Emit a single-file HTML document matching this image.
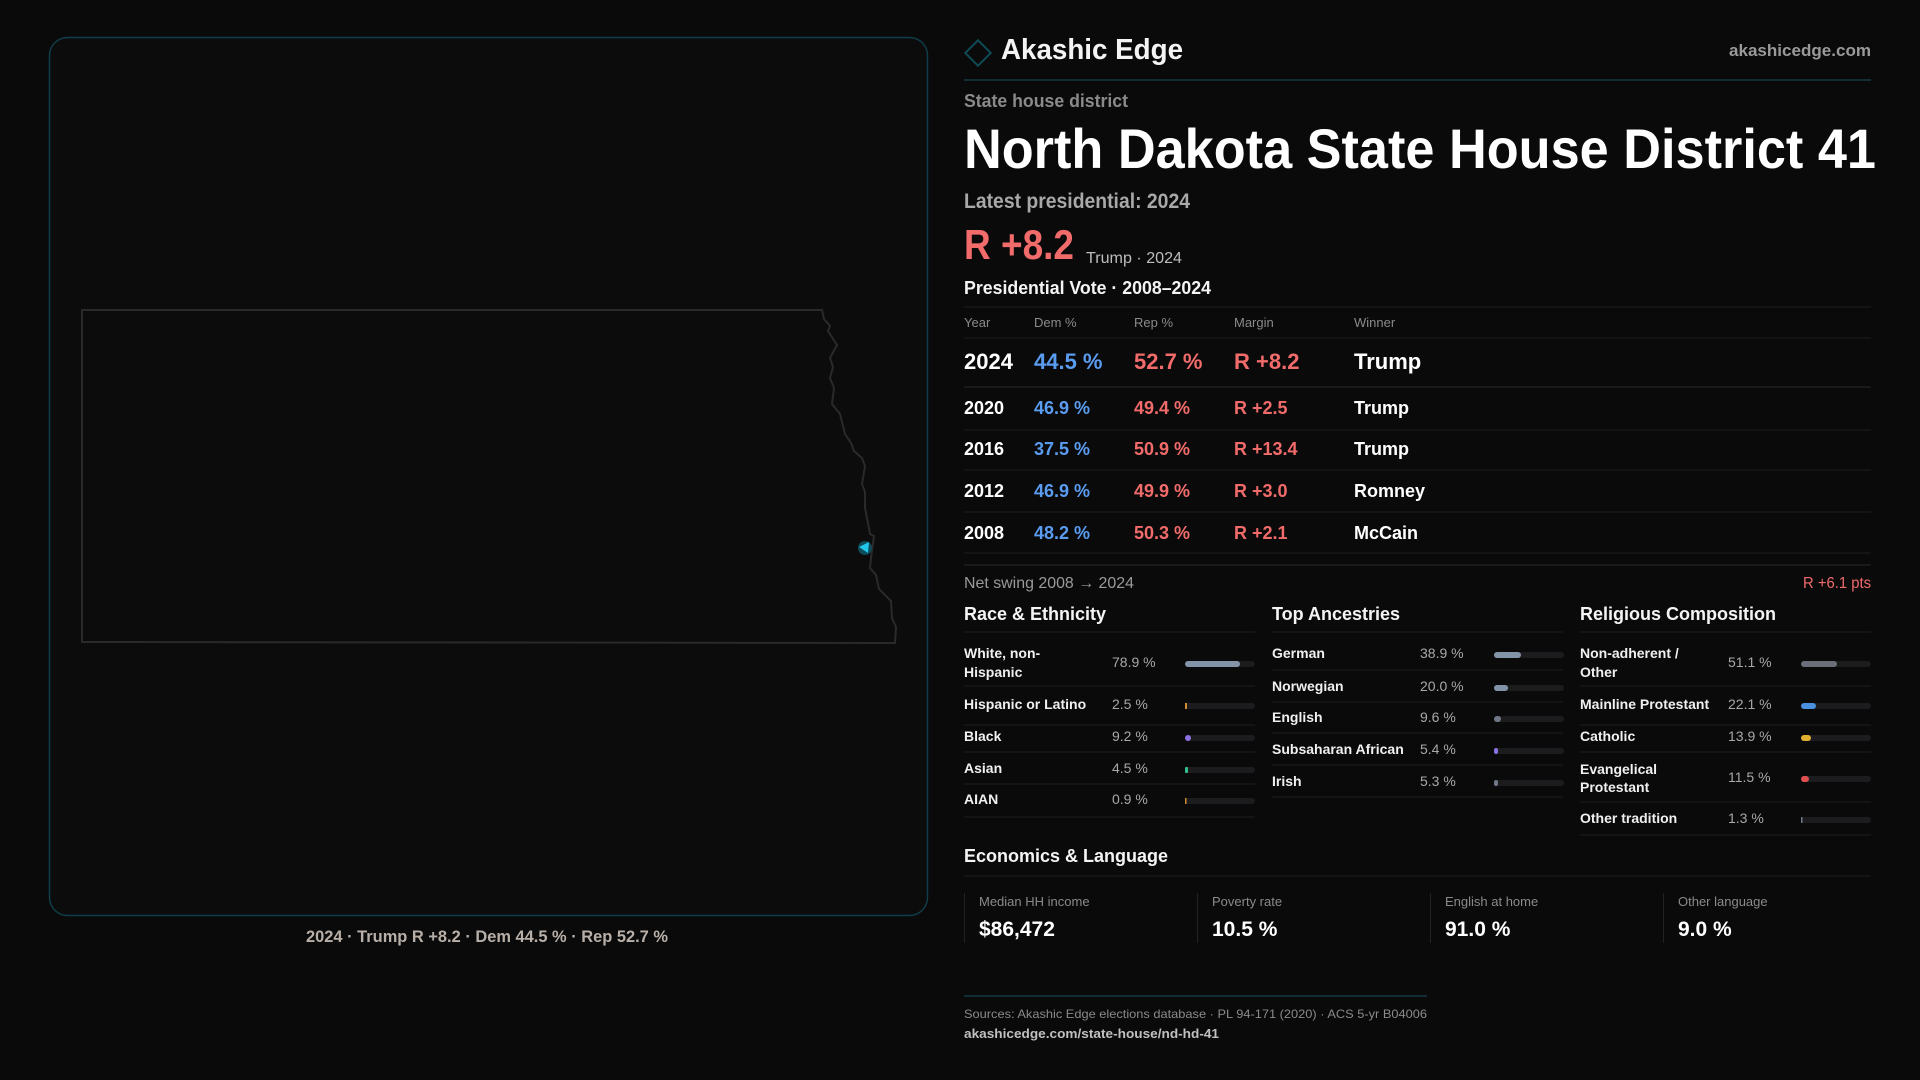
<!DOCTYPE html>
<html><head><meta charset="utf-8"><style>
html,body{margin:0;padding:0;background:#0a0a0b;}
svg{display:block}
text{font-family:"Liberation Sans",sans-serif;}
</style></head><body>
<svg width="1920" height="1080" viewBox="0 0 1920 1080" xmlns="http://www.w3.org/2000/svg">
<rect width="1920" height="1080" fill="#0a0a0b"/>
<!-- map panel -->
<rect x="49.5" y="37.5" width="878" height="878" rx="18" fill="#0c0c0d" stroke="#0f3d48" stroke-width="1.5"/>
<path d="M82,310 L822,310 L824,319 L830,326 L828,331 L837,345 L830,358 L833,367 L830,378 L834,388 L832,404 L840,414 L845,434 L851,443 L854,451 L862,458 L865,466 L862,484 L865,492 L865,508 L868,523 L870,534 L874,536 L871,558 L870,568 L876,575 L879,589 L891,601 L892,618 L896,627 L895,643 L82,642 Z" fill="none" stroke="#2a2a2c" stroke-width="2"/>
<circle cx="865" cy="548" r="7" fill="#0e4a58"/>
<path d="M859,547 L869,542 L868,553 Z" fill="#22c8ea"/>
<text x="487" y="942" text-anchor="middle" font-size="17" fill="#b8b0a8" font-weight="bold" textLength="362" lengthAdjust="spacingAndGlyphs">2024 · Trump R +8.2 · Dem 44.5 % · Rep 52.7 %</text>

<!-- header -->
<rect x="969" y="44" width="18" height="18" transform="rotate(45 978 53)" fill="none" stroke="#0f4a55" stroke-width="2"/>
<text x="1001" y="59" font-size="29" fill="#f4f4f4" font-weight="bold" textLength="182" lengthAdjust="spacingAndGlyphs">Akashic Edge</text>
<text x="1871" y="56" text-anchor="end" font-size="17" fill="#9a9a9a" font-weight="bold" textLength="142" lengthAdjust="spacingAndGlyphs">akashicedge.com</text>
<line x1="964" y1="80" x2="1871" y2="80" stroke="#123a42" stroke-width="1.5"/>
<text x="964" y="107" font-size="18" fill="#8a8a8a" font-weight="bold" textLength="164" lengthAdjust="spacingAndGlyphs">State house district</text>
<text x="964" y="168" font-size="56" fill="#ffffff" font-weight="bold" textLength="912" lengthAdjust="spacingAndGlyphs">North Dakota State House District 41</text>
<text x="964" y="208" font-size="21" fill="#a8a8a8" font-weight="bold" textLength="226" lengthAdjust="spacingAndGlyphs">Latest presidential: 2024</text>
<text x="964" y="259" font-size="42" fill="#f26b6b" font-weight="bold" textLength="110" lengthAdjust="spacingAndGlyphs">R +8.2</text>
<text x="1086" y="263" font-size="16" fill="#bdbdbd" textLength="96" lengthAdjust="spacingAndGlyphs">Trump · 2024</text>
<text x="964" y="294" font-size="18" fill="#f4f4f4" font-weight="bold" textLength="247" lengthAdjust="spacingAndGlyphs">Presidential Vote · 2008–2024</text>
<g stroke="#1e1e20" stroke-width="1">
<line x1="964" y1="307" x2="1871" y2="307"/><line x1="964" y1="338" x2="1871" y2="338"/>
<line x1="964" y1="387" x2="1871" y2="387" stroke="#2a2a2c"/><line x1="964" y1="430" x2="1871" y2="430"/>
<line x1="964" y1="470" x2="1871" y2="470"/><line x1="964" y1="512" x2="1871" y2="512"/>
<line x1="964" y1="553" x2="1871" y2="553"/><line x1="964" y1="565" x2="1871" y2="565" stroke="#2a2a2c"/>
</g>
<g font-size="13" fill="#8a8a8a">
<text x="964" y="327">Year</text><text x="1034" y="327">Dem %</text><text x="1134" y="327">Rep %</text><text x="1234" y="327">Margin</text><text x="1354" y="327">Winner</text>
</g>
<g font-size="22" font-weight="bold">
<text x="964" y="369" fill="#fff">2024</text><text x="1034" y="369" fill="#5a9cf0">44.5 %</text><text x="1134" y="369" fill="#f26b6b">52.7 %</text><text x="1234" y="369" fill="#f26b6b">R +8.2</text><text x="1354" y="369" fill="#fff">Trump</text>
</g>
<g font-size="18" font-weight="bold">
<text x="964" y="414" fill="#fff">2020</text><text x="1034" y="414" fill="#5a9cf0">46.9 %</text><text x="1134" y="414" fill="#f26b6b">49.4 %</text><text x="1234" y="414" fill="#f26b6b">R +2.5</text><text x="1354" y="414" fill="#fff">Trump</text>
<text x="964" y="455" fill="#fff">2016</text><text x="1034" y="455" fill="#5a9cf0">37.5 %</text><text x="1134" y="455" fill="#f26b6b">50.9 %</text><text x="1234" y="455" fill="#f26b6b">R +13.4</text><text x="1354" y="455" fill="#fff">Trump</text>
<text x="964" y="497" fill="#fff">2012</text><text x="1034" y="497" fill="#5a9cf0">46.9 %</text><text x="1134" y="497" fill="#f26b6b">49.9 %</text><text x="1234" y="497" fill="#f26b6b">R +3.0</text><text x="1354" y="497" fill="#fff">Romney</text>
<text x="964" y="539" fill="#fff">2008</text><text x="1034" y="539" fill="#5a9cf0">48.2 %</text><text x="1134" y="539" fill="#f26b6b">50.3 %</text><text x="1234" y="539" fill="#f26b6b">R +2.1</text><text x="1354" y="539" fill="#fff">McCain</text>
</g>
<text x="964" y="588" font-size="16" fill="#9a9a9a" textLength="170" lengthAdjust="spacingAndGlyphs">Net swing 2008 → 2024</text>
<text x="1871" y="588" text-anchor="end" font-size="16" fill="#f26b6b" textLength="68" lengthAdjust="spacingAndGlyphs">R +6.1 pts</text>

<!-- section titles -->
<g font-size="18" font-weight="bold" fill="#f4f4f4">
<text x="964" y="620">Race &amp; Ethnicity</text>
<text x="1272" y="620">Top Ancestries</text>
<text x="1580" y="620">Religious Composition</text>
<text x="964" y="862">Economics &amp; Language</text>
</g>
<g stroke="#1e1e20" stroke-width="1">
<line x1="964" y1="632" x2="1255" y2="632"/><line x1="1272" y1="632" x2="1563" y2="632"/><line x1="1580" y1="632" x2="1871" y2="632"/>
<line x1="964" y1="686" x2="1255" y2="686"/><line x1="964" y1="725" x2="1255" y2="725"/><line x1="964" y1="752" x2="1255" y2="752"/><line x1="964" y1="784" x2="1255" y2="784"/><line x1="964" y1="817" x2="1255" y2="817"/>
<line x1="1272" y1="670" x2="1563" y2="670"/><line x1="1272" y1="702" x2="1563" y2="702"/><line x1="1272" y1="733" x2="1563" y2="733"/><line x1="1272" y1="765" x2="1563" y2="765"/><line x1="1272" y1="797" x2="1563" y2="797"/>
<line x1="1580" y1="686" x2="1871" y2="686"/><line x1="1580" y1="725" x2="1871" y2="725"/><line x1="1580" y1="752" x2="1871" y2="752"/><line x1="1580" y1="802" x2="1871" y2="802"/><line x1="1580" y1="835" x2="1871" y2="835"/>
<line x1="964" y1="876" x2="1871" y2="876"/>
</g>
<g font-size="14" font-weight="bold" fill="#f0f0f0">
<text x="964" y="658">White, non-</text><text x="964" y="677">Hispanic</text>
<text x="964" y="709">Hispanic or Latino</text><text x="964" y="741">Black</text><text x="964" y="773">Asian</text><text x="964" y="804">AIAN</text>
<text x="1272" y="658">German</text><text x="1272" y="691">Norwegian</text><text x="1272" y="722">English</text><text x="1272" y="754">Subsaharan African</text><text x="1272" y="786">Irish</text>
<text x="1580" y="658">Non-adherent /</text><text x="1580" y="677">Other</text><text x="1580" y="709">Mainline Protestant</text><text x="1580" y="741">Catholic</text><text x="1580" y="774">Evangelical</text><text x="1580" y="792">Protestant</text><text x="1580" y="823">Other tradition</text>
</g>
<g font-size="14" fill="#a8a8a8">
<text x="1112" y="667">78.9 %</text><text x="1112" y="709">2.5 %</text><text x="1112" y="741">9.2 %</text><text x="1112" y="773">4.5 %</text><text x="1112" y="804">0.9 %</text>
<text x="1420" y="658">38.9 %</text><text x="1420" y="691">20.0 %</text><text x="1420" y="722">9.6 %</text><text x="1420" y="754">5.4 %</text><text x="1420" y="786">5.3 %</text>
<text x="1728" y="667">51.1 %</text><text x="1728" y="709">22.1 %</text><text x="1728" y="741">13.9 %</text><text x="1728" y="782">11.5 %</text><text x="1728" y="823">1.3 %</text>
</g>
<g>
<!-- tracks -->
<g fill="#1c1c1e">
<rect x="1185" y="661" width="70" height="6" rx="3"/><rect x="1185" y="703" width="70" height="6" rx="3"/><rect x="1185" y="735" width="70" height="6" rx="3"/><rect x="1185" y="767" width="70" height="6" rx="3"/><rect x="1185" y="798" width="70" height="6" rx="3"/>
<rect x="1494" y="652" width="70" height="6" rx="3"/><rect x="1494" y="685" width="70" height="6" rx="3"/><rect x="1494" y="716" width="70" height="6" rx="3"/><rect x="1494" y="748" width="70" height="6" rx="3"/><rect x="1494" y="780" width="70" height="6" rx="3"/>
<rect x="1801" y="661" width="70" height="6" rx="3"/><rect x="1801" y="703" width="70" height="6" rx="3"/><rect x="1801" y="735" width="70" height="6" rx="3"/><rect x="1801" y="776" width="70" height="6" rx="3"/><rect x="1801" y="817" width="70" height="6" rx="3"/>
</g>
<rect x="1185" y="661" width="55" height="6" rx="3" fill="#8494a8"/>
<rect x="1185" y="703" width="2" height="6" fill="#d08a30"/>
<rect x="1185" y="735" width="6" height="6" rx="3" fill="#8a70e0"/>
<rect x="1185" y="767" width="3" height="6" rx="1" fill="#30c090"/>
<rect x="1185" y="798" width="1.5" height="6" fill="#d08a30"/>
<rect x="1494" y="652" width="27" height="6" rx="3" fill="#8494a8"/>
<rect x="1494" y="685" width="14" height="6" rx="3" fill="#8494a8"/>
<rect x="1494" y="716" width="7" height="6" rx="3" fill="#707888"/>
<rect x="1494" y="748" width="4" height="6" rx="2" fill="#8a70e0"/>
<rect x="1494" y="780" width="4" height="6" rx="2" fill="#707888"/>
<rect x="1801" y="661" width="36" height="6" rx="3" fill="#6a6e78"/>
<rect x="1801" y="703" width="15" height="6" rx="3" fill="#4a90e0"/>
<rect x="1801" y="735" width="10" height="6" rx="3" fill="#e0b030"/>
<rect x="1801" y="776" width="8" height="6" rx="3" fill="#e05050"/>
<rect x="1801" y="817" width="1.5" height="6" fill="#707888"/>
</g>

<!-- econ cards -->
<g stroke="#222224" stroke-width="1">
<line x1="964.5" y1="893" x2="964.5" y2="943"/><line x1="1197.5" y1="893" x2="1197.5" y2="943"/><line x1="1430.5" y1="893" x2="1430.5" y2="943"/><line x1="1663.5" y1="893" x2="1663.5" y2="943"/>
</g>
<g font-size="13" fill="#8a8a8a">
<text x="979" y="906">Median HH income</text><text x="1212" y="906">Poverty rate</text><text x="1445" y="906">English at home</text><text x="1678" y="906">Other language</text>
</g>
<g font-size="21" font-weight="bold" fill="#fff">
<text x="979" y="936">$86,472</text><text x="1212" y="936">10.5 %</text><text x="1445" y="936">91.0 %</text><text x="1678" y="936">9.0 %</text>
</g>
<line x1="964" y1="996" x2="1427" y2="996" stroke="#123a42" stroke-width="1.5"/>
<text x="964" y="1018" font-size="12" fill="#8a8a8a" textLength="463" lengthAdjust="spacingAndGlyphs">Sources: Akashic Edge elections database · PL 94-171 (2020) · ACS 5-yr B04006</text>
<text x="964" y="1038" font-size="13" fill="#c0c0c0" font-weight="bold" textLength="255" lengthAdjust="spacingAndGlyphs">akashicedge.com/state-house/nd-hd-41</text>
</svg>
</body></html>
